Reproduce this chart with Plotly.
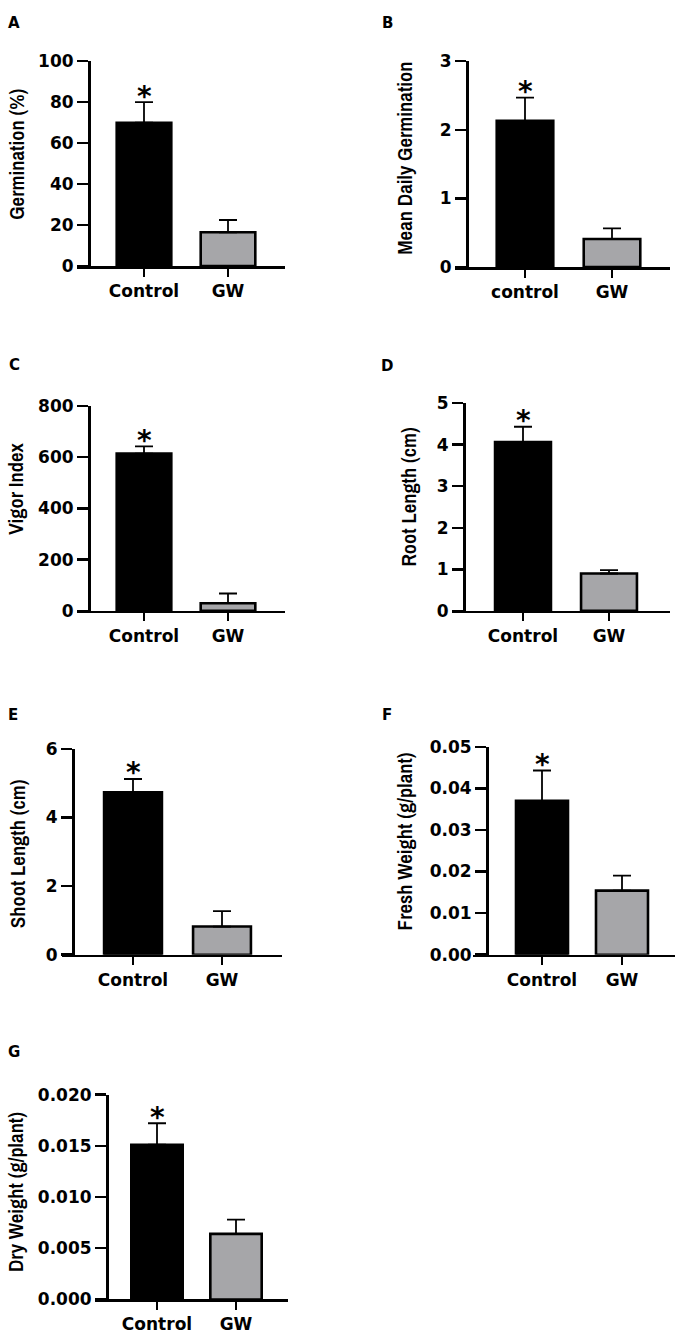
import plotly.graph_objects as go

W, H = 681, 1339

# ---- data ----
groups_A = ["Control", "GW"]
germination = [70.0, 16.5]
germination_err = [10.0, 6.0]

groups_B = ["control", "GW"]
mean_daily_germination = [2.13, 0.41]
mean_daily_germination_err = [0.34, 0.155]

groups_C = ["Control", "GW"]
vigor_index = [614, 30]
vigor_index_err = [28, 38]

groups_D = ["Control", "GW"]
root_length = [4.06, 0.9]
root_length_err = [0.37, 0.08]

groups_E = ["Control", "GW"]
shoot_length = [4.73, 0.82]
shoot_length_err = [0.39, 0.45]

groups_F = ["Control", "GW"]
fresh_weight = [0.0370, 0.0154]
fresh_weight_err = [0.0073, 0.0036]

groups_G = ["Control", "GW"]
dry_weight = [0.0151, 0.0064]
dry_weight_err = [0.0021, 0.0014]

panel_letters = ["A", "B", "C", "D", "E", "F", "G"]
y_titles = ["Germination (%)", "Mean Daily Germination", "Vigor Index",
            "Root Length (cm)", "Shoot Length (cm)", "Fresh Weight (g/plant)",
            "Dry Weight (g/plant)"]
y_ranges = [[0, 100], [0, 3], [0, 800], [0, 5], [0, 6], [0, 0.05], [0, 0.02]]
y_dticks = [20, 1, 200, 1, 2, 0.01, 0.005]
y_formats = ["", "", "", "", "", ".2f", ".3f"]

# ---- layout geometry (pixels) ----
# yaxis x, y0 (value 0), ytop, xaxis left, xaxis right, center ctrl, center GW
geom = [
    (89, 260, 52, 77, 285, 144, 228),
    (467, 261, 52, 455, 670, 525, 612),
    (89, 610, 402, 77, 285, 144, 228),
    (464, 610, 399, 452, 670, 523, 609),
    (73, 959, 750, 62, 282, 133, 222),
    (487, 959, 748, 473, 675, 542, 622),
    (107, 1309, 1101, 95, 288, 157, 236),
]
title_pos = [(17, 147), (405, 151), (16, 486), (409, 494), (17, 857), (404, 844), (15, 1200)]
letter_pos = [(14, 13), (387, 13), (14, 360), (387, 361), (13, 716), (387, 716), (14, 1058)]

panels = [
    (groups_A, germination, germination_err),
    (groups_B, mean_daily_germination, mean_daily_germination_err),
    (groups_C, vigor_index, vigor_index_err),
    (groups_D, root_length, root_length_err),
    (groups_E, shoot_length, shoot_length_err),
    (groups_F, fresh_weight, fresh_weight_err),
    (groups_G, dry_weight, dry_weight_err),
]

BAR_COLORS = ["#000000", "#a6a6a9"]
TICKFONT = dict(family="DejaVu Sans", size=17, color="black", weight="bold")
TITLEFONT = dict(family="Archivo Narrow", size=21, color="black", weight=600)

fig = go.Figure()
layout = dict(width=W, height=H, autosize=False, margin=dict(l=0, r=0, t=0, b=0),
              paper_bgcolor="white", plot_bgcolor="white", showlegend=False,
              annotations=[])

def px(v):
    return v / W

def py(v):
    return 1 - v / H

for i, ((cats, vals, errs), g) in enumerate(zip(panels, geom)):
    n = "" if i == 0 else str(i + 1)
    yax_x, y0, ytop, xl, xr, c0, c1 = g
    unit = c1 - c0
    xlo = (xl - c0) / unit
    xhi = 1 + (xr - c1) / unit
    fig.add_trace(go.Bar(
        x=cats, y=vals, xaxis="x" + n, yaxis="y" + n, width=0.65,
        marker=dict(color=BAR_COLORS, line=dict(color="black", width=2.6)),
        error_y=dict(type="data", array=errs, arrayminus=[0] * len(errs),
                     symmetric=False, color="black", thickness=1.8, width=9),
    ))
    layout["xaxis" + n] = dict(
        domain=[px(xl), px(xr)], anchor="y" + n, type="category",
        categoryorder="array", categoryarray=cats, range=[xlo, xhi],
        showline=True, linecolor="black", linewidth=2.5,
        ticks="outside", ticklen=8, tickwidth=2.5, tickcolor="black",
        tickfont=TICKFONT, showgrid=False, zeroline=False, fixedrange=True)
    layout["yaxis" + n] = dict(
        domain=[py(y0), py(ytop)], anchor="free", position=px(yax_x),
        range=y_ranges[i], dtick=y_dticks[i], tick0=0, tickformat=y_formats[i],
        showline=True, linecolor="black", linewidth=2.5,
        ticks="outside", ticklen=11, tickwidth=2.5, tickcolor="black",
        tickfont=TICKFONT, showgrid=False, zeroline=False, fixedrange=True)
    # significance asterisk above control error bar
    layout["annotations"].append(dict(
        x=cats[0], y=vals[0] + errs[0], xref="x" + n, yref="y" + n,
        text="*", showarrow=False, xanchor="center", yanchor="middle", yshift=6,
        font=dict(family="DejaVu Sans", size=28, color="black", weight="bold")))
    # y title
    tx, ty = title_pos[i]
    layout["annotations"].append(dict(
        x=px(tx), y=py(ty), xref="paper", yref="paper", text=y_titles[i],
        textangle=-90, showarrow=False, xanchor="center", yanchor="middle",
        font=TITLEFONT))
    # panel letter
    lx, ly = letter_pos[i]
    layout["annotations"].append(dict(
        x=px(lx), y=py(ly), xref="paper", yref="paper", text=panel_letters[i],
        showarrow=False, xanchor="center", yanchor="middle",
        font=dict(family="DejaVu Sans", size=15, color="black", weight="bold")))

fig.update_layout(**layout)
fig.write_html("out.html", config={"displayModeBar": False, "staticPlot": True},
               post_script="document.body.style.margin='0';")
